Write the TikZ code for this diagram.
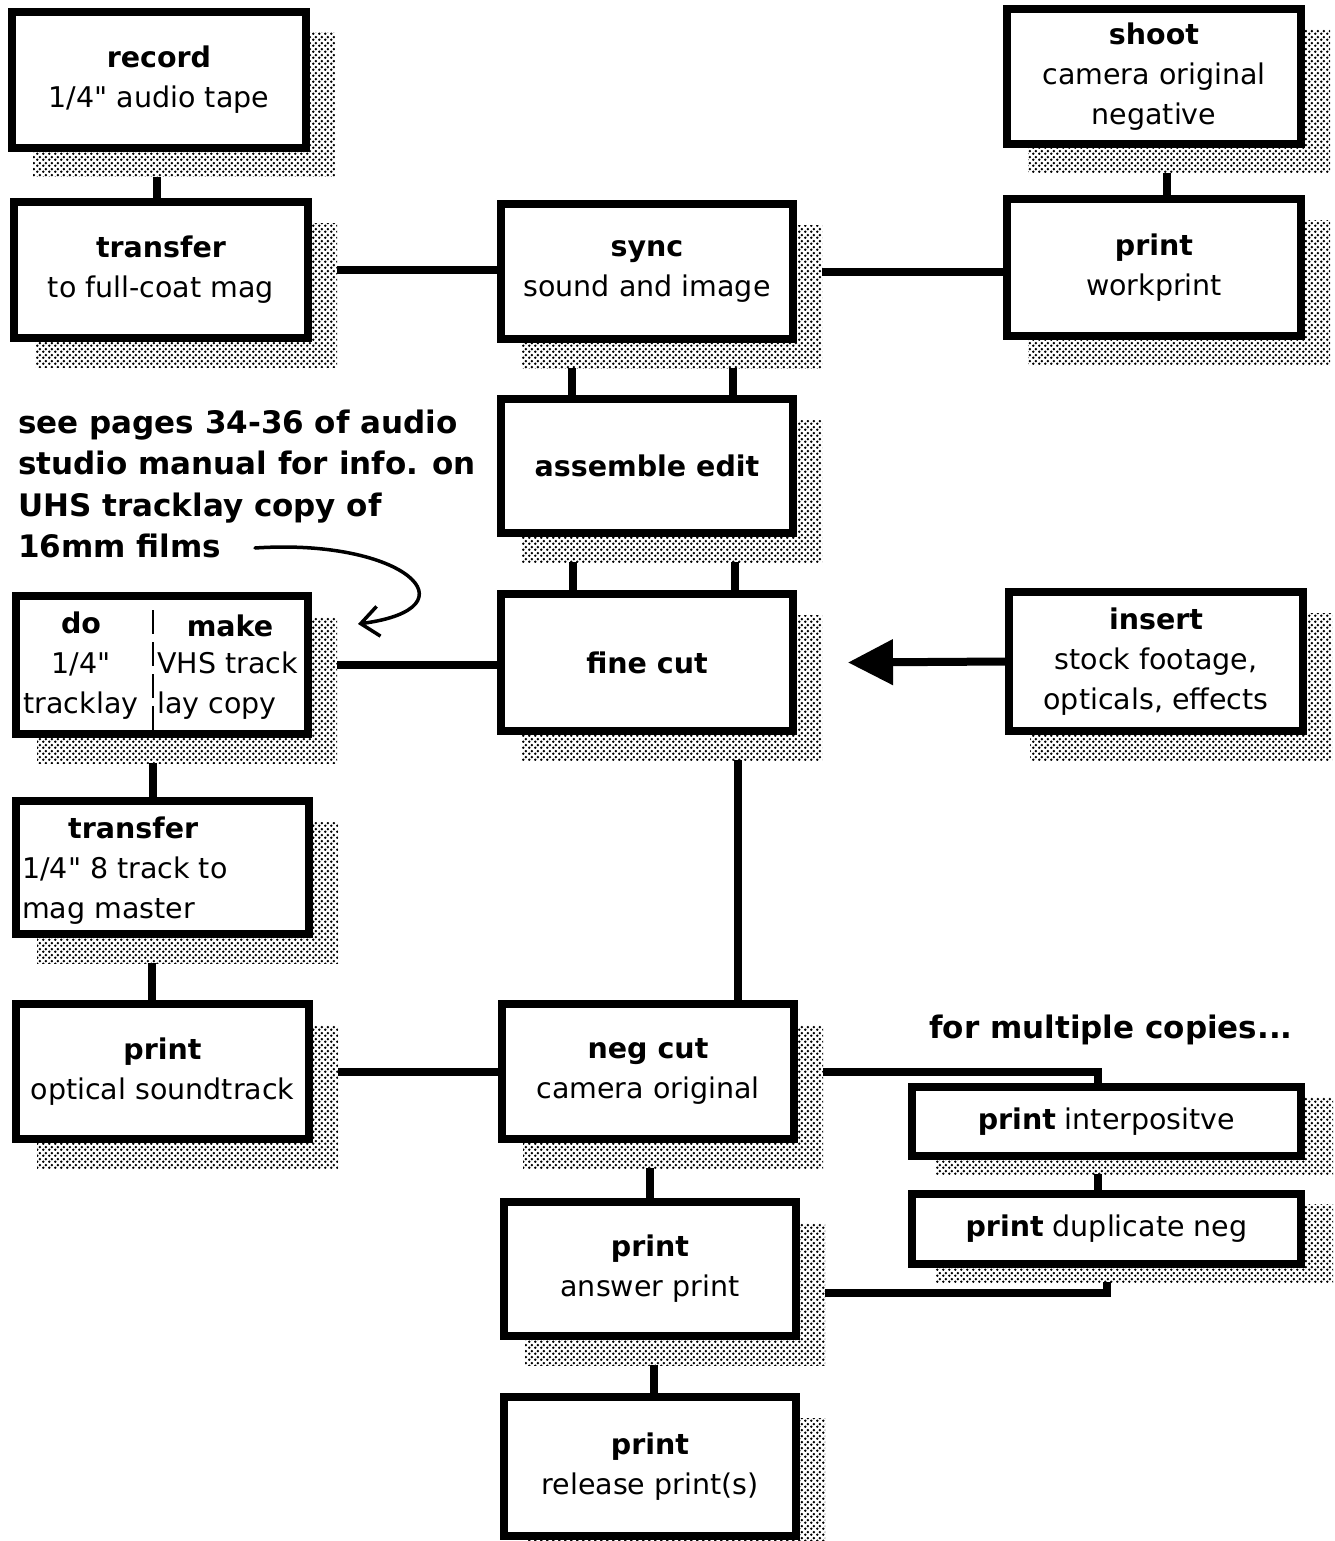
\documentclass[tikz,border=0pt]{standalone}
\usepackage{fontspec}
\setmainfont{DejaVu Sans}[Ligatures=TeXOff]
\usetikzlibrary{arrows.meta,patterns}
\pgfdeclarelayer{conn}
\pgfdeclarelayer{shad}
\pgfsetlayers{conn,shad,main}
\pgfdeclarepatternformonly{sdots}{\pgfqpoint{0pt}{0pt}}{\pgfqpoint{6pt}{6pt}}{\pgfqpoint{6pt}{6pt}}{%
  \pgfpathcircle{\pgfqpoint{1.5pt}{1.5pt}}{1.55pt}%
  \pgfpathcircle{\pgfqpoint{4.5pt}{4.5pt}}{1.55pt}%
  \pgfusepath{fill}}
\newcommand\boxshadow[3]{%
  \fill[white] ([xshift=#2pt,yshift=-#3pt]#1.north west) rectangle ([xshift=#2pt,yshift=-#3pt]#1.south east);
  \fill[pattern=sdots] ([xshift=#2pt,yshift=-#3pt]#1.north west) rectangle ([xshift=#2pt,yshift=-#3pt]#1.south east);}
\begin{document}
\begin{tikzpicture}[x=1pt,y=-1pt,
  box/.style={draw, line width=8pt, fill=white, align=center, inner sep=0pt,
              font=\fontsize{28.5}{40}\selectfont},
  txt/.style={inner sep=0pt, align=center, font=\fontsize{28.5}{40}\selectfont},
  note/.style={inner sep=0pt, align=left, font=\bfseries\fontsize{31}{41.3}\selectfont},
  link/.style={line width=8pt}]
\useasboundingbox (0,0) rectangle (1334,1541);

% boxes
\node[box, minimum width=294pt, minimum height=136pt] (rec) at (159,80) {\textbf{record}\\1/4" audio tape};
\node[box, minimum width=294pt, minimum height=136pt] (tr1) at (161,270) {\textbf{transfer}\\to full-coat mag};
\node[box, minimum width=292pt, minimum height=135pt] (sync) at (647,271.5) {\textbf{sync}\\sound and image};
\node[box, minimum width=294pt, minimum height=135pt] (shoot) at (1154,76.5) {\textbf{shoot}\\camera original\\negative};
\node[box, minimum width=294pt, minimum height=137pt] (wp) at (1154,267.5) {\textbf{print}\\workprint};
\node[box, minimum width=292pt, minimum height=134pt] (asm) at (647,466) {\textbf{assemble edit}};
\node[box, minimum width=292pt, minimum height=137pt] (fine) at (647,662.5) {\textbf{fine cut}};
\node[box, minimum width=294pt, minimum height=139pt] (ins) at (1156,661.5) {\textbf{insert}\\stock footage,\\opticals, effects};
\node[box, minimum width=292pt, minimum height=138pt] (dm) at (162,665) {};
\node[box, minimum width=293pt, minimum height=133pt] (tr2) at (162.5,867.5) {};
\node[box, minimum width=293pt, minimum height=135pt] (opt) at (162.5,1071.5) {\textbf{print}\\optical soundtrack};
\node[box, minimum width=292pt, minimum height=135pt] (neg) at (648,1071.5) {\textbf{neg cut}\\camera original};
\node[box, minimum width=292pt, minimum height=134pt] (ans) at (650,1269) {\textbf{print}\\answer print};
\node[box, minimum width=292pt, minimum height=139pt] (rel) at (650,1466.5) {\textbf{print}\\release print(s)};
\node[box, minimum width=389pt, minimum height=69pt] (ip) at (1106.5,1121.5) {\textbf{print} interpositve};
\node[box, minimum width=389pt, minimum height=70pt] (dn) at (1106.5,1229) {\textbf{print} duplicate neg};

% texts inside split / left-aligned boxes
\node[txt] (dmdo) at (81,666) {\textbf{do}\\1/4"\\tracklay};
\node[txt] (dmmake) at (230,626) {\textbf{make}};
\node[txt, anchor=west, align=left] (dmvhs) at (157,686) {VHS track\\lay copy};
\draw[line width=2pt, dash pattern=on 24pt off 8pt] ([xshift=-9pt,yshift=55pt]dm.center) -- ([xshift=-9pt,yshift=-65pt]dm.center);
\node[txt, anchor=west, align=left] (tr2t) at (22,871) {\hspace*{46pt}\textbf{transfer}\\1/4" 8 track to\\mag master};

% annotations
\node[note, anchor=west] (note) at (18,484) {see pages 34-36 of audio\\studio manual for info. on\\UHS tracklay copy of\\16mm films};
\node[note] (multi) at (1111,1030) {for multiple copies...};
\coordinate (cs) at (255,548);
\coordinate (ce) at (358,624);
\draw[line width=3.5pt, line cap=round, -{Straight Barb[length=18pt,width=30pt,line width=3.5pt]}]
  (cs) .. controls (405,538) and (478,608) .. (ce);

% shadows
\begin{pgfonlayer}{shad}
\boxshadow{rec}{25}{25}
\boxshadow{tr1}{25}{25}
\boxshadow{sync}{25}{25}
\boxshadow{shoot}{25}{25}
\boxshadow{wp}{25}{25}
\boxshadow{asm}{25}{25}
\boxshadow{fine}{25}{25}
\boxshadow{ins}{25}{25}
\boxshadow{dm}{25}{25}
\boxshadow{tr2}{25}{25}
\boxshadow{opt}{25}{25}
\boxshadow{neg}{25}{25}
\boxshadow{ans}{25}{25}
\boxshadow{rel}{25}{25}
\boxshadow{ip}{28}{14}
\boxshadow{dn}{28}{14}
\end{pgfonlayer}

% connectors
\begin{pgfonlayer}{conn}
\draw[link] ([xshift=-2pt]rec.south) -- ([xshift=-2pt]rec.south |- tr1.north);
\draw[link] (tr1.east) -- (tr1.east -| sync.west);
\draw[link] (sync.east) -- (sync.east -| wp.west);
\draw[link] ([xshift=13pt]shoot.south) -- ([xshift=13pt]shoot.south |- wp.north);
\draw[link] ([xshift=-75pt]sync.south) -- ([xshift=-75pt]sync.south |- asm.north);
\draw[link] ([xshift=86pt]sync.south) -- ([xshift=86pt]sync.south |- asm.north);
\draw[link] ([xshift=-74pt]asm.south) -- ([xshift=-74pt]asm.south |- fine.north);
\draw[link] ([xshift=88pt]asm.south) -- ([xshift=88pt]asm.south |- fine.north);
\draw[link] (dm.east) -- (dm.east -| fine.west);
\draw[link] ([xshift=-9pt]dm.south) -- ([xshift=-9pt]dm.south |- tr2.north);
\draw[link] ([xshift=-11pt]tr2.south) -- ([xshift=-11pt]tr2.south |- opt.north);
\draw[link] (opt.east) -- (opt.east -| neg.west);
\draw[link] ([xshift=91pt]fine.south) -- ([xshift=91pt]fine.south |- neg.north);
\draw[link] (neg.east) -| ([xshift=-9pt]ip.north);
\draw[link] ([xshift=-9pt]ip.south) -- ([xshift=-9pt]ip.south |- dn.north);
\draw[link] (dn.south) |- ([yshift=-24pt]ans.east);
\draw[link] ([xshift=2pt]neg.south) -- ([xshift=2pt]neg.south |- ans.north);
\draw[link] ([xshift=4pt]ans.south) -- ([xshift=4pt]ans.south |- rel.north);
\draw[link, -{Triangle[length=45pt,width=44pt]}] (ins.west) -- ([xshift=51pt]fine.east);
\end{pgfonlayer}
\end{tikzpicture}
\end{document}
